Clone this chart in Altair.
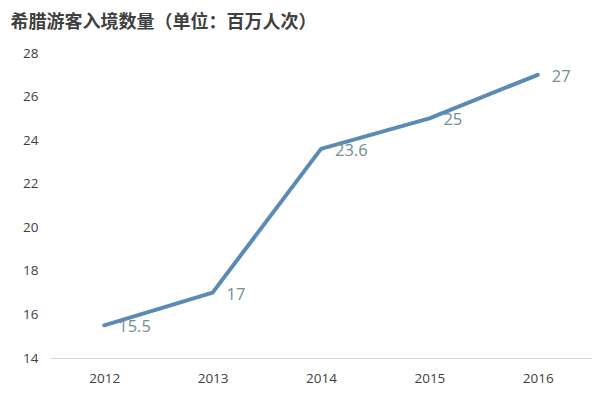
import altair as alt
import pandas as pd

years = ["2012", "2013", "2014", "2015", "2016"]
visitors = [15.5, 17, 23.6, 25, 27]
labels = ["15.5", "17", "23.6", "25", "27"]

df = pd.DataFrame({"year": years, "value": visitors, "label": labels})

base = alt.Chart(df).encode(
    x=alt.X("year:N", sort=years, scale=alt.Scale(paddingInner=0, paddingOuter=0),
            axis=alt.Axis(title=None, labelAngle=0, ticks=False, domain=True,
                          domainColor="#d9d9d9", labelPadding=13, labelFontSize=13.5,
                          labelColor="#404040", labelFont="Open Sans")),
    y=alt.Y("value:Q", scale=alt.Scale(domain=[14, 28], nice=False, zero=False),
            axis=alt.Axis(title=None, values=[14, 16, 18, 20, 22, 24, 26, 28], grid=False,
                          domain=False, ticks=False, labelPadding=12, labelFontSize=13.5,
                          labelColor="#404040", labelFont="Open Sans")),
)

line = base.mark_line(color="#5b8bb5", strokeWidth=4, strokeCap="round", strokeJoin="round")
text = base.mark_text(align="left", baseline="middle", dx=14, dy=2, fontSize=16.5,
                      color="#748c96", font="Open Sans").encode(text="label:N")

chart = (line + text).properties(
    width=542, height=305,
    title=alt.TitleParams("希腊游客入境数量（单位：百万人次）", anchor="start", fontSize=18,
                          font="Noto Sans CJK SC", fontWeight="bold", color="#404040",
                          offset=14, frame="bounds", dx=-12, baseline="top"),
    padding={"left": 2, "top": 6, "right": 0, "bottom": 0},
).configure_view(stroke=None)

chart.save("out.html", embed_options={"renderer": "svg", "actions": False})
